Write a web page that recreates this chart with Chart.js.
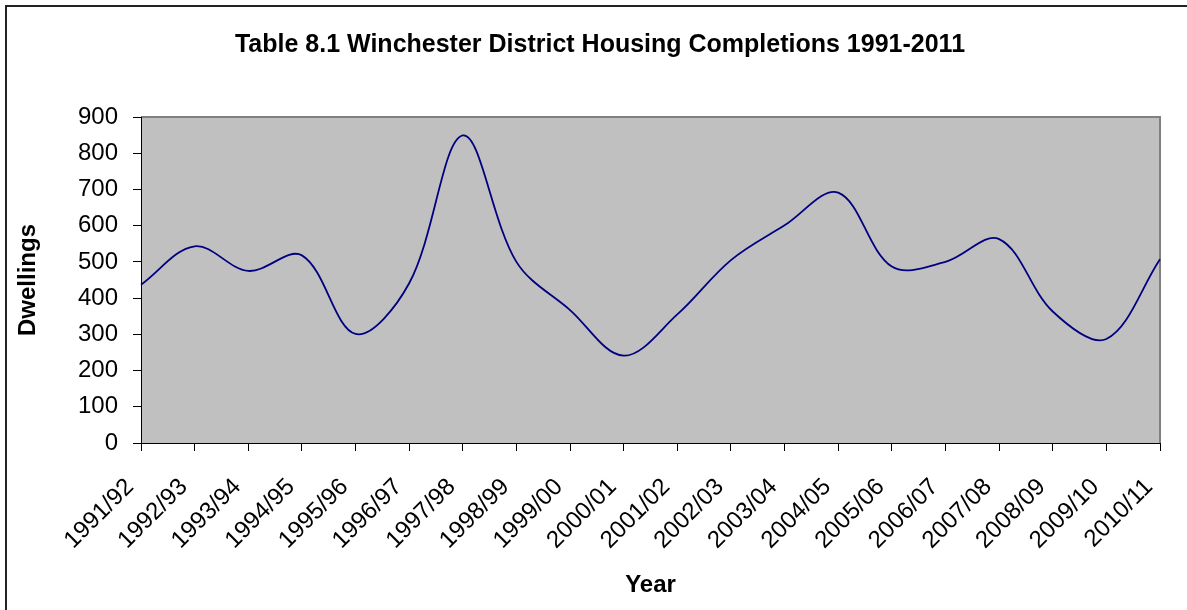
<!DOCTYPE html>
<html>
<head>
<meta charset="utf-8">
<script src="https://cdn.jsdelivr.net/npm/chart.js@4.4.1/dist/chart.umd.min.js"></script>
<style>
  html, body { margin: 0; padding: 0; background: #fff; }
</style>
</head>
<body>
<canvas id="chart" width="1187" height="610"></canvas>
<script>
// data
const years = ['1991/92', '1992/93', '1993/94', '1994/95', '1995/96', '1996/97', '1997/98',
  '1998/99', '1999/00', '2000/01', '2001/02', '2002/03', '2003/04', '2004/05', '2005/06',
  '2006/07', '2007/08', '2008/09', '2009/10', '2010/11'];
const dwellings = [437, 543, 475, 518, 301, 441, 849, 500, 367, 241,
  355, 505, 601, 691, 487, 500, 563, 363, 287, 507];

const chartTitle = 'Table 8.1 Winchester District Housing Completions 1991-2011';
const FONT = 'Arial, "Liberation Sans", sans-serif';

// grey plot area, outer frame and the title
const frame = {
  id: 'frame',
  beforeDraw(chart) {
    const {ctx, chartArea: a} = chart;
    ctx.save();
    ctx.fillStyle = '#fff';
    ctx.fillRect(0, 0, chart.width, chart.height);
    ctx.fillStyle = '#c0c0c0';
    ctx.fillRect(a.left, a.top, a.right - a.left, a.bottom - a.top);
    ctx.strokeStyle = '#808080';
    ctx.lineWidth = 2;
    ctx.beginPath();
    ctx.moveTo(a.left, a.top);
    ctx.lineTo(a.right, a.top);
    ctx.lineTo(a.right, a.bottom);
    ctx.stroke();
    ctx.strokeStyle = '#222';
    ctx.lineWidth = 2;
    ctx.strokeRect(6, 6, 1200, 700);
    ctx.fillStyle = '#000';
    ctx.font = 'bold 25px ' + FONT;
    ctx.textAlign = 'center';
    ctx.textBaseline = 'middle';
    ctx.fillText(chartTitle, 600, 45);
    ctx.restore();
  }
};

new Chart(document.getElementById('chart'), {
  type: 'line',
  data: {
    labels: years,
    datasets: [{
      data: dwellings,
      borderColor: '#000080',
      borderWidth: 1.8,
      pointRadius: 0,
      tension: 0.35,
      fill: false
    }]
  },
  options: {
    responsive: false,
    animation: false,
    layout: { padding: { top: 117, right: 27, bottom: 0, left: 0 } },
    plugins: {
      legend: { display: false },
      tooltip: { enabled: false }
    },
    scales: {
      x: {
        afterFit(s) {
          s.height = 167;
          // rotated labels hang to the left, no extra room needed
          s.paddingLeft = 0;
          s.paddingRight = 0;
        },
        grid: { drawOnChartArea: false, tickLength: 8, color: '#000' },
        border: { color: '#000', width: 1 },
        ticks: {
          autoSkip: false, maxRotation: 45, minRotation: 45,
          padding: 22, labelOffset: -11,
          color: '#000', font: { family: FONT, size: 24 }
        },
        title: {
          display: true, text: 'Year', color: '#000',
          font: { family: FONT, size: 24, weight: 'bold' },
          padding: { top: 0, bottom: 10 }
        }
      },
      y: {
        min: 0, max: 900,
        afterFit(s) { s.width = 141; },
        grid: { drawOnChartArea: false, tickLength: 8, color: '#000' },
        border: { color: '#000', width: 1 },
        ticks: { stepSize: 100, padding: 15, color: '#000', font: { family: FONT, size: 24 } },
        title: {
          display: true, text: 'Dwellings', color: '#000',
          font: { family: FONT, size: 24, weight: 'bold' },
          padding: { top: 14, bottom: 0 }
        }
      }
    }
  },
  plugins: [frame]
});
</script>
</body>
</html>
